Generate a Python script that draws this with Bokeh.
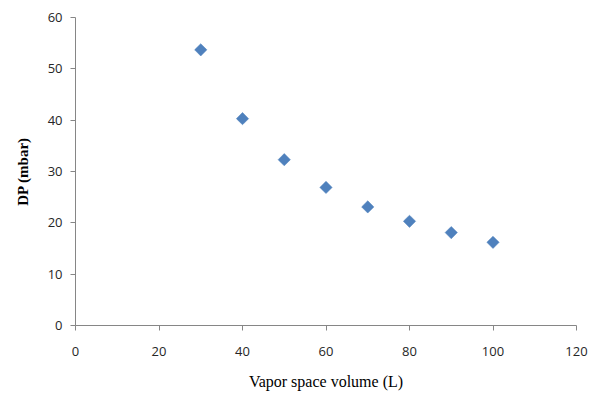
import math
from bokeh.plotting import figure
from bokeh.models import Range1d, FixedTicker
from bokeh.embed import file_html
from bokeh.resources import INLINE

volume = [30, 40, 50, 60, 70, 80, 90, 100]
dp = [53.7, 40.3, 32.3, 26.9, 23.1, 20.3, 18.1, 16.2]
x_ticks = [0, 20, 40, 60, 80, 100, 120]
y_ticks = [0, 10, 20, 30, 40, 50, 60]

p = figure(width=588, height=392, output_backend="svg", toolbar_location=None,
           x_range=Range1d(0, 120), y_range=Range1d(0, 60))
p.min_border_left = 75
p.min_border_right = 12
p.min_border_top = 17
p.min_border_bottom = 67
p.outline_line_color = None
p.xgrid.grid_line_color = None
p.ygrid.grid_line_color = None

p.scatter(volume, dp, marker="square", angle=math.pi / 4, size=8.7,
          fill_color="#4F81BD", line_color="#4A7EBB", line_width=0.5)

axis_col = "#868686"
for ax in (p.xaxis[0], p.yaxis[0]):
    ax.axis_line_color = axis_col
    ax.major_tick_line_color = axis_col
    ax.minor_tick_line_color = None
    ax.major_tick_in = 0
    ax.major_tick_out = 5
    ax.major_label_text_font = "Open Sans"
    ax.major_label_text_font_size = "13px"
    ax.major_label_text_color = "#262626"
    ax.axis_label_text_font = "Liberation Serif"
    ax.axis_label_text_color = "#000000"

p.xaxis.ticker = FixedTicker(ticks=x_ticks)
p.yaxis.ticker = FixedTicker(ticks=y_ticks)
p.xaxis.axis_label = "Vapor space volume (L)"
p.xaxis.axis_label_text_font_style = "normal"
p.xaxis.axis_label_text_font_size = "16px"
p.xaxis.major_label_standoff = 16
p.xaxis.axis_label_standoff = 14
p.yaxis.axis_label = "DP (mbar)"
p.yaxis.axis_label_text_font_style = "bold"
p.yaxis.axis_label_text_font_size = "15px"
p.yaxis.major_label_standoff = 8
p.yaxis.axis_label_standoff = 14

open("out.html", "w").write(file_html(p, INLINE))
